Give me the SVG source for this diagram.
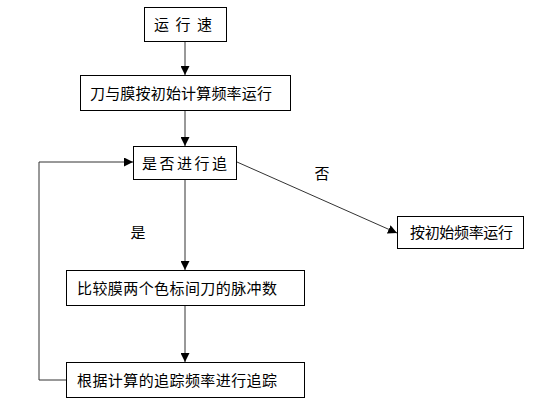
<svg xmlns="http://www.w3.org/2000/svg" width="545" height="409" viewBox="0 0 545 409">
<style>
.box{fill:#fff;stroke:#000;stroke-width:1}
.t{font-family:"Liberation Sans","Noto Sans CJK SC",sans-serif;font-size:15px;fill:#000;text-anchor:middle;dominant-baseline:central}
.c{fill:none;stroke:#333;stroke-width:1}
</style>
<defs>
<marker id="ah" viewBox="0 0 10 10" refX="10" refY="5" markerWidth="9" markerHeight="9" markerUnits="userSpaceOnUse" orient="auto">
<path d="M0,0 L10,5 L0,10 z" fill="#000"/>
</marker>
</defs>
<rect width="545" height="409" fill="#fff"/>
<g id="connectors">
<line class="c" x1="185" y1="41" x2="185" y2="75" marker-end="url(#ah)"/>
<line class="c" x1="185" y1="111" x2="185" y2="146" marker-end="url(#ah)"/>
<line class="c" x1="185" y1="179" x2="185" y2="270" marker-end="url(#ah)"/>
<line class="c" x1="185" y1="305" x2="185" y2="362" marker-end="url(#ah)"/>
<polyline class="c" points="66,380 39,380 39,162 133,162" marker-end="url(#ah)"/>
<line class="c" stroke="#000" x1="237" y1="162" x2="397" y2="233" marker-end="url(#ah)"/>
<text class="t" x="322" y="173">否</text>
<text class="t" x="138" y="232">是</text>
</g>
<g id="n1"><rect class="box" x="144.5" y="7.5" width="82" height="34"/><text class="t" x="183" y="24.5" textLength="58" lengthAdjust="spacing">运行速</text></g>
<g id="n2"><rect class="box" x="80.5" y="75.5" width="210" height="35"/><text class="t" x="181" y="93" textLength="182" lengthAdjust="spacing">刀与膜按初始计算频率运行</text></g>
<g id="n3"><rect class="box" x="133.5" y="146.5" width="103" height="33"/><text class="t" x="184.5" y="163" textLength="85" lengthAdjust="spacing">是否进行追</text></g>
<g id="n4"><rect class="box" x="397.5" y="216.5" width="126" height="32"/><text class="t" x="461.5" y="232.5" textLength="103" lengthAdjust="spacing">按初始频率运行</text></g>
<g id="n5"><rect class="box" x="66.5" y="270.5" width="238" height="35"/><text class="t" x="177" y="288" textLength="200" lengthAdjust="spacing">比较膜两个色标间刀的脉冲数</text></g>
<g id="n6"><rect class="box" x="66.5" y="362.5" width="238" height="35"/><text class="t" x="177" y="380" textLength="200" lengthAdjust="spacing">根据计算的追踪频率进行追踪</text></g>
</svg>
